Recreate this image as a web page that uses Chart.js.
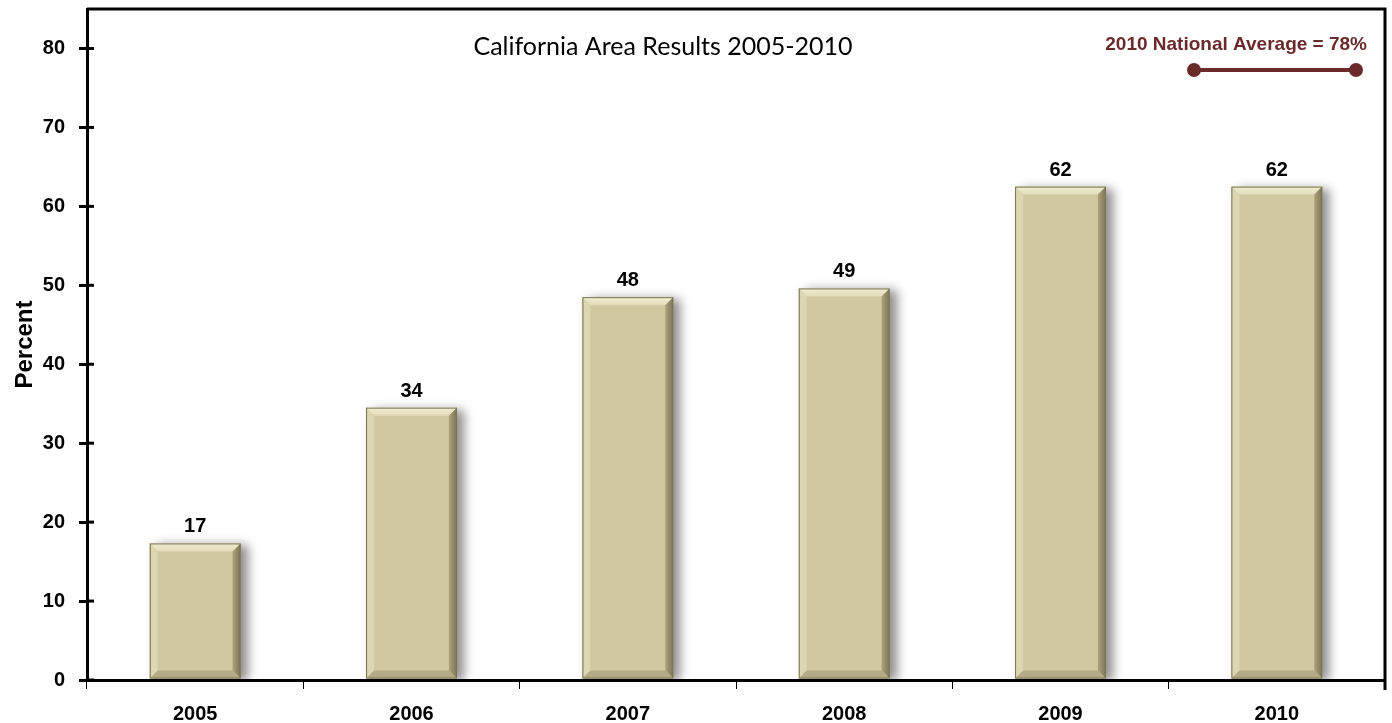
<!DOCTYPE html>
<html>
<head>
<meta charset="utf-8">
<script src="https://cdn.jsdelivr.net/npm/chart.js@4.4.1/dist/chart.umd.min.js"></script>
<style>
  html, body { margin: 0; padding: 0; background: #fff; }
  #wrap { width: 1392px; height: 723px; }
</style>
</head>
<body>
<div id="wrap"><canvas id="canvas" width="1392" height="723"></canvas></div>
<script>
var years = ["2005", "2006", "2007", "2008", "2009", "2010"];
var percent = [17.3, 34.5, 48.5, 49.6, 62.5, 62.5];
var yTicks = [0, 10, 20, 30, 40, 50, 60, 70, 80];
var chartTitle = "California Area Results 2005-2010";
var nationalLabel = "2010 National Average = 78%";

var maroon = "#6b2a2a";
var boldFont = "'Liberation Sans', Arial, sans-serif";

// frame on top/right, small inner tick marks, bar bevels, value labels, title and legend
var decorations = {
    id: "decorations",
    beforeDatasetsDraw: function(chart) {
        var ctx = chart.ctx;
        ctx.save();
        ctx.shadowColor = "rgba(0,0,0,0.45)";
        ctx.shadowOffsetX = 7;
        ctx.shadowOffsetY = 2;
        ctx.shadowBlur = 10;
    },
    afterDatasetsDraw: function(chart) {
        var ctx = chart.ctx;
        ctx.restore();
        var meta = chart.getDatasetMeta(0);
        meta.data.forEach(function(bar, i) {
            var l = bar.x - bar.width / 2, r = bar.x + bar.width / 2;
            var t = bar.y, b = bar.base, e = 8;
            ctx.save();
            var g = ctx.createLinearGradient(0, t, 0, t + e);
            g.addColorStop(0, "#f0edd2");
            g.addColorStop(1, "#e2dcb9");
            ctx.fillStyle = g;
            ctx.beginPath();
            ctx.moveTo(l, t); ctx.lineTo(r, t); ctx.lineTo(r - e, t + e); ctx.lineTo(l + e, t + e);
            ctx.closePath(); ctx.fill();
            ctx.fillStyle = "#dcd6b2";
            ctx.beginPath();
            ctx.moveTo(l, t); ctx.lineTo(l + e, t + e); ctx.lineTo(l + e, b - e); ctx.lineTo(l, b);
            ctx.closePath(); ctx.fill();
            var gr = ctx.createLinearGradient(r - e, 0, r, 0);
            gr.addColorStop(0, "#aaa27b");
            gr.addColorStop(1, "#7d7654");
            ctx.fillStyle = gr;
            ctx.beginPath();
            ctx.moveTo(r, t); ctx.lineTo(r, b); ctx.lineTo(r - e, b - e); ctx.lineTo(r - e, t + e);
            ctx.closePath(); ctx.fill();
            ctx.fillStyle = "#b3ab83";
            ctx.beginPath();
            ctx.moveTo(l, b); ctx.lineTo(r, b); ctx.lineTo(r - e, b - e); ctx.lineTo(l + e, b - e);
            ctx.closePath(); ctx.fill();
            ctx.strokeStyle = "#7a7452";
            ctx.lineWidth = 1;
            ctx.strokeRect(l + 0.5, t + 0.5, bar.width - 1, b - t - 1);
            ctx.fillStyle = "#000";
            ctx.font = "bold 20px " + boldFont;
            ctx.textAlign = "center";
            ctx.textBaseline = "alphabetic";
            ctx.fillText(Math.floor(percent[i]), bar.x, t - 11);
            ctx.restore();
        });
    },
    afterDraw: function(chart) {
        var ctx = chart.ctx, a = chart.chartArea;
        var y = chart.scales.y;
        ctx.save();
        ctx.strokeStyle = "#000";
        ctx.lineWidth = 3;
        ctx.beginPath();
        ctx.moveTo(a.left, a.top);
        ctx.lineTo(a.right, a.top);
        ctx.lineTo(a.right, a.bottom + 10);
        ctx.stroke();
        yTicks.forEach(function(v) {
            var py = y.getPixelForValue(v);
            ctx.beginPath();
            ctx.moveTo(a.left, py);
            ctx.lineTo(a.left + 7, py);
            ctx.stroke();
        });
        ctx.fillStyle = "#000";
        ctx.font = "25px Lato, 'Open Sans', sans-serif";
        ctx.textAlign = "center";
        ctx.textBaseline = "middle";
        ctx.fillText(chartTitle, 663, 47);
        ctx.fillStyle = maroon;
        ctx.font = "bold 19px " + boldFont;
        ctx.textAlign = "right";
        ctx.fillText(nationalLabel, 1367, 45);
        ctx.strokeStyle = maroon;
        ctx.lineWidth = 4;
        ctx.beginPath();
        ctx.moveTo(1194, 70);
        ctx.lineTo(1356, 70);
        ctx.stroke();
        [1194, 1356].forEach(function(px) {
            ctx.beginPath();
            ctx.arc(px, 70, 7, 0, Math.PI * 2);
            ctx.fill();
        });
        ctx.restore();
    }
};

const ctx = document.getElementById("canvas").getContext("2d");
const myChart = new Chart(ctx, {
    type: "bar",
    data: {
        labels: years,
        datasets: [{
            label: "Percent",
            data: percent,
            backgroundColor: "#cfc8a0",
            borderWidth: 0,
            barPercentage: 0.42,
            categoryPercentage: 1
        }]
    },
    options: {
        responsive: false,
        animation: false,
        layout: { padding: { top: 9, right: 7, left: 0, bottom: 0 } },
        scales: {
            x: {
                grid: { display: true, drawOnChartArea: false, offset: true, tickLength: 9, color: "#000", lineWidth: 1 },
                border: { color: "#000", width: 3 },
                ticks: { color: "#000", padding: 13, font: { family: boldFont, size: 20, weight: "bold" } },
                afterFit: function(s) { s.height = 43; s.paddingLeft = 0; s.paddingRight = 0; }
            },
            y: {
                min: 0,
                max: 85,
                afterBuildTicks: function(s) {
                    s.ticks = yTicks.map(function(v) { return { value: v }; });
                },
                grid: { display: true, drawOnChartArea: false, tickLength: 8, color: "#000", lineWidth: 3 },
                border: { color: "#000", width: 3 },
                ticks: { color: "#000", padding: 14, font: { family: boldFont, size: 20, weight: "bold" } },
                title: { display: true, text: "Percent", color: "#000", padding: { top: 11, bottom: 0 }, font: { family: boldFont, size: 24, weight: "bold" } },
                afterFit: function(s) { s.width = 87; s.paddingTop = 0; s.paddingBottom = 0; }
            }
        },
        plugins: {
            legend: { display: false },
            tooltip: { enabled: false }
        }
    },
    plugins: [decorations]
});
</script>
</body>
</html>
